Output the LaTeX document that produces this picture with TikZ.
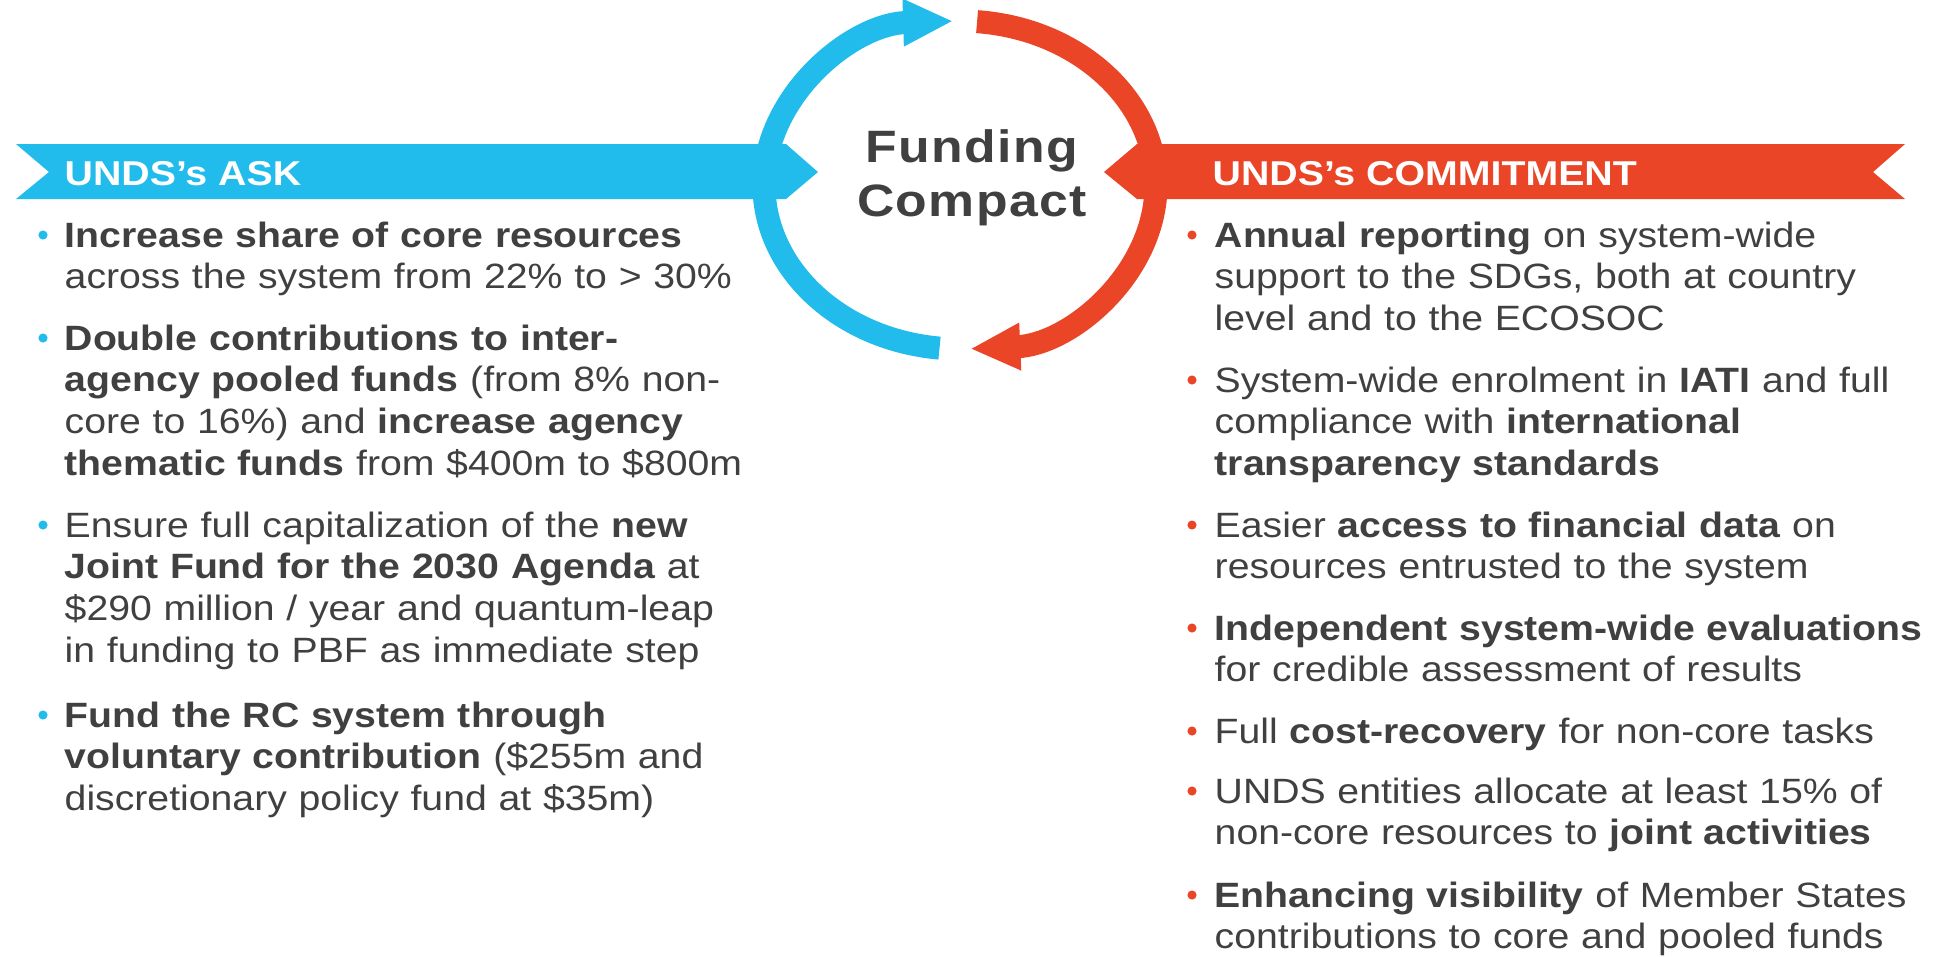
\documentclass[tikz,border=0pt]{standalone}
\usepackage{fontspec}
\setmainfont{Liberation Sans}[FakeStretch=1.115]
\newfontfamily\titlefont{Liberation Sans}[FakeStretch=1.14,LetterSpace=3]
\newfontfamily\headfont{Liberation Sans}[FakeStretch=1.14]
\usetikzlibrary{arrows.meta,calc}
\definecolor{askblue}{RGB}{33,187,236}
\definecolor{comred}{RGB}{233,69,38}
\definecolor{txtgray}{RGB}{64,64,64}

\begin{document}
\begin{tikzpicture}
    [x=0.01cm,y=-0.01cm,
     item/.style={anchor=base west,inner sep=0,text width=7.25cm,align=left,text=txtgray,font=\fontsize{10}{11.85}\selectfont},
     head/.style={anchor=base west,inner sep=0,text=white,font=\headfont\fontsize{9.8}{11}\selectfont\bfseries},
     ring/.style={line width=0.23cm,-{Triangle[length=0.5cm,width=0.44cm]}}]

    \useasboundingbox (0,0) rectangle (1939,956);

    % banners
    \fill[askblue] (16,144) -- (49,172) -- (16,199) -- (786,199) -- (818,172) -- (786,144) -- cycle;
    \fill[comred] (1104,172) -- (1137,144) -- (1905,144) -- (1873,172) -- (1905,199) -- (1137,199) -- cycle;

    % the cycle
    \draw[ring,askblue] (960,185) ++(96:196 and 164) arc[start angle=96,end angle=268,x radius=196,y radius=164];
    \draw[ring,comred] (960,185) ++(275:196 and 164) arc[start angle=275,end angle=447,x radius=196,y radius=164];

    \node[align=center,text=txtgray,font=\titlefont\fontsize{12.9}{15.4}\selectfont\bfseries] (fc) at (972,178) {Funding\\Compact};

    \node[head] (ask) at (64,185) {UNDS’s ASK};
    \node[head] (commit) at (1212,185) {UNDS’s COMMITMENT};

    % left column
    \node[item] (l1) at (64,247) {\textbf{Increase share of core resources}\\across the system from 22\% to > 30\%};
    \node[item] (l2) at (64,350) {\textbf{Double contributions to inter-}\\\textbf{agency pooled funds} (from 8\% non-\\core to 16\%) and \textbf{increase agency}\\\textbf{thematic funds} from \$400m to \$800m};
    \node[item] (l3) at (64,537) {Ensure full capitalization of the \textbf{new}\\\textbf{Joint Fund for the 2030 Agenda} at\\\$290 million / year and quantum-leap\\in funding to PBF as immediate step};
    \node[item] (l4) at (64,727) {\textbf{Fund the RC system through}\\\textbf{voluntary contribution} (\$255m and\\discretionary policy fund at \$35m)};

    % right column
    \node[item] (r1) at (1214,247) {\textbf{Annual reporting} on system-wide\\support to the SDGs, both at country\\level and to the ECOSOC};
    \node[item] (r2) at (1214,392) {System-wide enrolment in \textbf{IATI} and full\\compliance with \textbf{international}\\\textbf{transparency standards}};
    \node[item] (r3) at (1214,537) {Easier \textbf{access to financial data} on\\resources entrusted to the system};
    \node[item] (r4) at (1214,640) {\textbf{Independent system-wide evaluations}\\for credible assessment of results};
    \node[item] (r5) at (1214,743) {Full \textbf{cost-recovery} for non-core tasks};
    \node[item] (r6) at (1214,803) {UNDS entities allocate at least 15\% of\\non-core resources to \textbf{joint activities}};
    \node[item] (r7) at (1214,907) {\textbf{Enhancing visibility} of Member States\\contributions to core and pooled funds};

    % bullets
    \foreach \n in {l1,l2,l3,l4}
        \fill[askblue] ($(\n.base west)+(-21,-12)$) circle (1.3pt);
    \foreach \n in {r1,r2,r3,r4,r5,r6,r7}
        \fill[comred] ($(\n.base west)+(-22,-12)$) circle (1.3pt);

\end{tikzpicture}
\end{document}
